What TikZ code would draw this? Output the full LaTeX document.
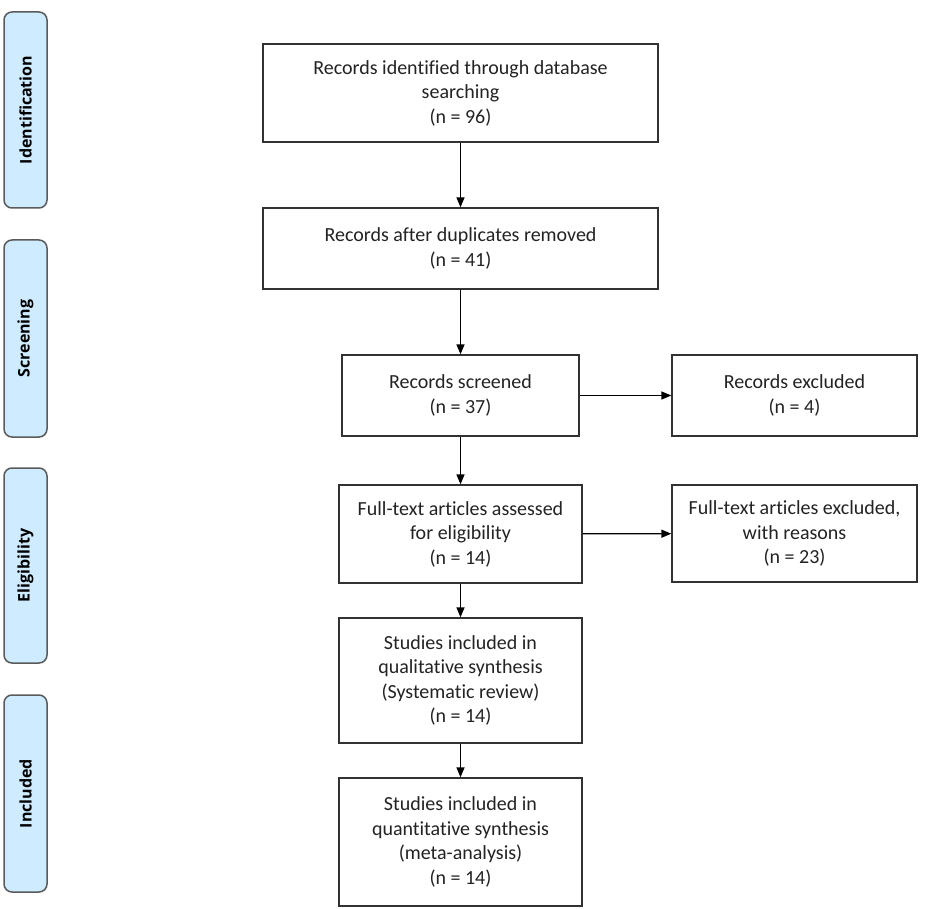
\documentclass[tikz,border=0pt]{standalone}
\usepackage{fontspec}
\setmainfont[Ligatures=NoCommon]{Carlito}
\newfontfamily\sidefont{Open Sans}
\usetikzlibrary{arrows.meta}
\definecolor{sidefill}{RGB}{206,235,255}
\definecolor{sidedraw}{RGB}{90,90,90}
\definecolor{boxdraw}{RGB}{50,50,50}
\definecolor{txt}{RGB}{35,35,35}
\begin{document}
\begin{tikzpicture}[x=1pt,y=-1pt,
  flowbox/.style={draw=boxdraw,line width=1.3pt,fill=white,align=center,text=txt,
    font=\fontsize{20}{24.5}\selectfont,inner sep=0pt},
  sidebox/.style={draw=sidedraw,line width=1.5pt,fill=sidefill,rounded corners=8pt,
    minimum width=43pt,inner sep=0pt},
  sidelabel/.style={rotate=90,font=\sidefont\fontsize{16}{20}\selectfont\bfseries,text=black},
  arr/.style={-{Triangle[length=10pt,width=8pt]},line width=1.3pt,draw=black}]
\useasboundingbox (0,0) rectangle (937,909);
% side phase boxes
\node[sidebox,minimum height=196pt] (sid) at (25.5,110) {};
\node[sidelabel] (lid) at (sid.center) {Identification};
\node[sidebox,minimum height=197pt] (sscr) at (25.5,338.5) {};
\node[sidelabel] (lscr) at (sscr.center) {Screening};
\node[sidebox,minimum height=195pt] (selig) at (25.5,565.5) {};
\node[sidelabel] (lelig) at (selig.center) {Eligibility};
\node[sidebox,minimum height=197pt] (sinc) at (25.5,793.5) {};
\node[sidelabel] (linc) at (sinc.center) {Included};
% main boxes
\node[flowbox,minimum width=395pt,minimum height=98pt] (b1) at (460.5,93)
  {Records identified through database\\searching\\(n = 96)};
\node[flowbox,minimum width=395pt,minimum height=81pt] (b2) at (460.5,248.5)
  {Records after duplicates removed\\(n = 41)};
\node[flowbox,minimum width=237pt,minimum height=81pt] (b3) at (460.5,395.5)
  {Records screened\\(n = 37)};
\node[flowbox,minimum width=245pt,minimum height=81pt] (e1) at (794.5,395.5)
  {Records excluded\\(n = 4)};
\node[flowbox,minimum width=243pt,minimum height=98pt] (b4) at (460.5,534)
  {Full-text articles assessed\\for eligibility\\(n = 14)};
\node[flowbox,minimum width=245pt,minimum height=97pt] (e2) at (794.5,533.5)
  {Full-text articles excluded,\\with reasons\\(n = 23)};
\node[flowbox,minimum width=243pt,minimum height=125pt] (b5) at (460.5,680.5)
  {Studies included in\\qualitative synthesis\\(Systematic review)\\(n = 14)};
\node[flowbox,minimum width=243pt,minimum height=128pt] (b6) at (460.5,842)
  {Studies included in\\quantitative synthesis\\(meta-analysis)\\(n = 14)};
% connectors
\draw[arr] (b1) -- (b2);
\draw[arr] (b2) -- (b3);
\draw[arr] (b3) -- (b4);
\draw[arr] (b4) -- (b5);
\draw[arr] (b5) -- (b6);
\draw[arr] (b3) -- (e1);
\draw[arr] (b4) -- (e2);
\end{tikzpicture}
\end{document}
